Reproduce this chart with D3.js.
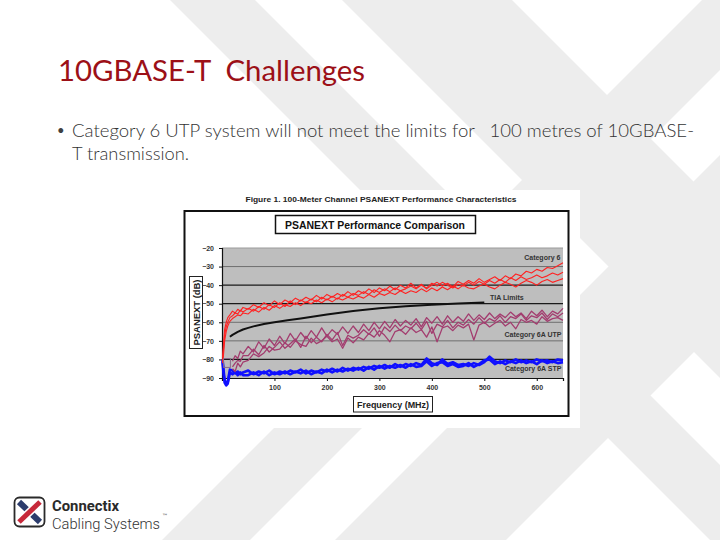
<!DOCTYPE html>
<html>
<head>
<meta charset="utf-8">
<script src="https://cdn.jsdelivr.net/npm/d3@7"></script>
<style>
  html, body { margin: 0; padding: 0; background: #fff; }
  svg { display: block; }
  text { white-space: pre; }
</style>
</head>
<body>
<svg id="slide" width="720" height="540"></svg>
<script>
// ---------------- DATA ----------------
const slideTitle = "10GBASE-T  Challenges";
const bulletLine1 = "Category 6 UTP system will not meet the limits for   100 metres of 10GBASE-";
const bulletLine2 = "T transmission.";
const figureTitle = "Figure 1. 100-Meter Channel PSANEXT Performance Characteristics";
const chartTitle = "PSANEXT Performance Comparison";
const xAxisTitle = "Frequency (MHz)";
const yAxisTitle = "PSANEXT (dB)";

const yTicks = [-20, -30, -40, -50, -60, -70, -80, -90];
const xTicks = [100, 200, 300, 400, 500, 600];
const darkGridLines = [-40, -50, -80];

const freqFull = [1,3,5,8,11,15,20,25,30,35,40,
  50,60,70,80,90,100,110,120,130,140,150,160,170,180,190,200,210,220,230,240,250,
  260,270,280,290,300,310,320,330,340,350,360,370,380,390,400,410,420,430,440,450,
  460,470,480,490,500,510,520,530,540,550,560,570,580,590,600,610,620,630,640,650];
const freqUTP = [20,25,30,35,40,
  50,60,70,80,90,100,110,120,130,140,150,160,170,180,190,200,210,220,230,240,250,
  260,270,280,290,300,310,320,330,340,350,360,370,380,390,400,410,420,430,440,450,
  460,470,480,490,500,510,520,530,540,550,560,570,580,590,600,610,620,630,640,650];

const cat6A = [-79,-71,-64,-60,-57.5,-56,-54,-55,-53,-54,-52,
  -53,-50.5,-52,-49.5,-51,-48.5,-50.5,-48,-49.5,-47,-48.5,-46.5,-48,-45.5,-47.5,-45,-46.5,-44.5,-46,-43.5,-45.5,
  -43,-44.5,-42,-44,-41.5,-43,-40.5,-42.5,-40,-41.5,-39,-41.5,-39.5,-42,-40,-38.5,-40.5,-39,-41,-38,
  -39.5,-37.5,-39,-36.5,-38.5,-37,-35.5,-37.5,-35,-36.5,-34,-35,-32.5,-33.5,-31.5,-32.5,-30.5,-31,-29.5,-28];
const cat6B = [-81,-74,-67,-62.5,-60,-57.5,-56.5,-55,-55.5,-53.5,-54.5,
  -52.5,-54,-51.5,-53,-50.5,-52,-49.5,-51.5,-48.5,-50.5,-48,-49.5,-47.5,-49,-46.5,-48,-46,-47.5,-45,-46.5,-44.5,
  -45.5,-43.5,-45,-42.5,-44,-42,-43.5,-41.5,-43,-42,-40.5,-42,-40,-41.5,-39,-40.5,-38.5,-40,-41.5,-39.5,
  -40.5,-38.5,-40,-38,-39.5,-37.5,-39,-37,-38.5,-36,-37.5,-35.5,-37,-36,-34.5,-36,-35,-33.5,-34.5,-33];
const cat6C = [-82,-77,-70,-65,-62,-59.5,-58,-57,-56,-56.5,-55,
  -55.5,-53,-54.5,-52,-53.5,-51,-52.5,-50.5,-51.5,-49.5,-51,-49,-50,-48,-49.5,-47.5,-49,-47,-48,-46.5,-47.5,
  -46,-47,-45,-46.5,-44.5,-45.5,-44,-45,-43,-44.5,-43,-44,-42,-43.5,-41.5,-43,-41,-42.5,-40.5,-42,
  -40,-41.5,-42,-40.5,-39.5,-41,-42,-40,-38.5,-39.5,-41,-39,-37.5,-38.5,-40,-38,-37,-38.5,-37.5,-36.5];

const tiaFreq = [15,20,30,40,50,60,80,100,125,150,200,250,300,350,400,450,500];
const tiaLimit = [-67.8,-66.8,-65.2,-63.9,-63,-62.2,-60.9,-60,-58.9,-57.9,-55.8,-53.9,-52.4,-51.3,-50.5,-49.9,-49.4];

const utpA = [-81,-78,-79.5,-75.5,-77,
  -73,-76,-70.5,-74,-69,-72.5,-67.5,-71.5,-66,-70,-65.5,-69,-64.5,-68,-63,-67.5,-64,-66.5,-62.5,-66,-62,
  -65.5,-61,-64.5,-60,-63.5,-59.5,-63,-58.5,-62,-59,-61.5,-58,-62.5,-57.5,-60.5,-57,-61,-56.5,-60,-57,
  -59.5,-55.5,-59,-56,-58.5,-55,-58,-55.5,-57.5,-54.5,-57,-55,-58,-54,-56.5,-53.5,-57,-54,-55.5,-52.5];
const utpB = [-84,-82,-80.5,-81,-78,
  -78,-74.5,-77.5,-72.5,-76,-73.5,-70.5,-74,-71.5,-69,-73.5,-67.5,-71,-68,-70.5,-66.5,-69.5,-65.5,-72.5,-67,-68.5,
  -67,-64,-66.5,-63,-67.5,-62.5,-65,-61.5,-64.5,-62,-63.5,-60.5,-64,-59.5,-66,-61,-62.5,-59,-63,-60,
  -61.5,-58.5,-61,-57.5,-60.5,-58,-59.5,-56.5,-60,-57,-58,-55.5,-59,-56.5,-57.5,-55,-58.5,-55.5,-57,-55];
const utpC = [-85,-86.5,-82,-84,-81.5,
  -80.5,-77,-78.5,-76.5,-73,-75,-74.5,-71,-73.5,-70,-72,-73,-68.5,-71.5,-70,-67.5,-70.5,-69,-74,-68.5,-71,
  -68,-69.5,-66,-68,-64.5,-67,-70.5,-65,-64,-66.5,-63,-65.5,-64,-68,-62.5,-70.5,-63,-62,-64.5,-61.5,
  -63,-61,-69.5,-61.5,-60,-62.5,-60.5,-59,-62,-60,-63.5,-58.5,-60,-59,-61,-57,-59.5,-58,-57.5,-59];

const stpA = [-80,-86,-91,-93,-92,-85.5,-86,-87.5,-86.5,-88,-87,
  -86,-88,-86.5,-87.5,-86,-88,-86.5,-87.5,-86,-87,-85.5,-87.5,-86,-87,-85.5,-86.5,-85,-86.5,-84.5,-86,-84.5,
  -85.5,-84,-85,-83.5,-84.5,-83,-84.5,-82.5,-84,-82.5,-83.5,-82,-83,-79.5,-82,-83,-80,-82.5,-81.5,-83,
  -82.5,-83.5,-82,-83,-81.5,-78.5,-81,-82,-80.5,-81.5,-80,-81.5,-80.5,-81.5,-80,-81,-80.5,-81.5,-80,-80.5];
const stpB = [-81,-88,-92.5,-94,-93,-87,-88,-86.5,-88.5,-87,-88.5,
  -88.5,-87,-88.5,-86.5,-88.5,-87,-88,-86.5,-88,-86.5,-87.5,-86,-88,-86.5,-87.5,-85.5,-87,-85.5,-86.5,-85,-86,
  -84.5,-86,-84,-85.5,-83.5,-85,-83.5,-84.5,-83,-84.5,-82.5,-84,-83.5,-81,-83.5,-82,-81.5,-83.5,-82.5,-84,
  -83.5,-82,-84,-82.5,-80.5,-80,-82.5,-81,-82.5,-81,-82,-80.5,-82,-81,-82.5,-80.5,-82,-81,-82,-81.5];

const seriesLabels = [
  {text: "Category 6", f: 645, db: -26.5},
  {text: "TIA Limits", f: 575, db: -47.9},
  {text: "Category 6A UTP", f: 647, db: -67.8},
  {text: "Category 6A STP", f: 647, db: -86.3}
];
const insetBox = {f0: 3, f1: 16, db0: -79.5, db1: -84.3};

// background watermark bands: "\" bands x-y in [a,b], "/" bands x+y in [a,b]
const bandsBack = [[170,255],[342,512]];
const bandsFwd = [[702,790],[875,1046]];

// ---------------- DRAW ----------------
const svg = d3.select("#slide");
const W = 720, H = 540;

svg.append("rect").attr("width", W).attr("height", H).attr("fill", "#ffffff");
const bg = svg.append("g").attr("fill", "#ededed");
bandsBack.forEach(([a,b]) => {
  bg.append("polygon").attr("points", [[a,0],[b,0],[b+H,H],[a+H,H]].map(p=>p.join(",")).join(" "));
});
bandsFwd.forEach(([a,b]) => {
  bg.append("polygon").attr("points", [[a,0],[b,0],[b-H,H],[a-H,H]].map(p=>p.join(",")).join(" "));
});

// Slide title
svg.append("text").attr("x", 58).attr("y", 81)
  .attr("font-family", "Lato, 'Open Sans', sans-serif").attr("font-weight", 400)
  .attr("font-size", 28).attr("fill", "#9c1017")
  .attr("textLength", 307).attr("lengthAdjust", "spacingAndGlyphs")
  .text(slideTitle);

// Bullet
svg.append("text").attr("x", 57).attr("y", 135)
  .attr("font-family", "Lato, sans-serif").attr("font-size", 13).attr("fill", "#404040").text("•");
svg.append("text").attr("x", 72).attr("y", 137)
  .attr("font-family", "Lato, 'Open Sans', sans-serif").attr("font-weight", 300)
  .attr("font-size", 17.5).attr("fill", "#333")
  .attr("textLength", 622).attr("lengthAdjust", "spacingAndGlyphs")
  .text(bulletLine1);
svg.append("text").attr("x", 72).attr("y", 160)
  .attr("font-family", "Lato, 'Open Sans', sans-serif").attr("font-weight", 300)
  .attr("font-size", 17.5).attr("fill", "#333")
  .attr("textLength", 117).attr("lengthAdjust", "spacingAndGlyphs")
  .text(bulletLine2);

// Chart image
const chart = svg.append("g");
chart.append("rect").attr("x", 181).attr("y", 190).attr("width", 399).attr("height", 238).attr("fill", "#fff");
const AF = "'Liberation Sans', Arial, sans-serif";
chart.append("text").attr("x", 381).attr("y", 202).attr("text-anchor", "middle")
  .attr("font-family", AF).attr("font-weight", "bold").attr("font-size", 8).attr("fill", "#222")
  .attr("textLength", 271).attr("lengthAdjust", "spacingAndGlyphs").text(figureTitle);

chart.append("rect").attr("x", 184.5).attr("y", 211).attr("width", 384).attr("height", 205)
  .attr("fill", "#fff").attr("stroke", "#111").attr("stroke-width", 2);

chart.append("rect").attr("x", 275.5).attr("y", 215.5).attr("width", 200).attr("height", 18)
  .attr("fill", "#fff").attr("stroke", "#111").attr("stroke-width", 1.5);
chart.append("text").attr("x", 375).attr("y", 228.5).attr("text-anchor", "middle")
  .attr("font-family", AF).attr("font-weight", "bold").attr("font-size", 11).attr("fill", "#111")
  .attr("textLength", 180).attr("lengthAdjust", "spacingAndGlyphs").text(chartTitle);

const x = d3.scaleLinear().domain([0, 650]).range([222, 563]);
const y = d3.scaleLinear().domain([-90, -20]).range([378, 248]);

chart.append("rect").attr("x", x(0)).attr("y", y(-20)).attr("width", x(650) - x(0)).attr("height", y(-90) - y(-20))
  .attr("fill", "#bebebe");

// gridlines
chart.append("g").selectAll("line").data(yTicks.filter(t => t !== -90)).join("line")
  .attr("x1", x(0)).attr("x2", x(650)).attr("y1", d => y(d)).attr("y2", d => y(d))
  .attr("stroke", d => darkGridLines.includes(d) ? "#1a1a1a" : (d === -20 ? "#9a9a9a" : "#6e6e6e"))
  .attr("stroke-width", d => darkGridLines.includes(d) ? 1.3 : 1);

// axes
const yAxis = d3.axisLeft(y).tickValues(yTicks).tickSize(3).tickFormat(d3.format("d"));
const gy = chart.append("g").attr("transform", `translate(${x(0)},0)`).call(yAxis);
gy.select(".domain").attr("stroke", "#111").attr("stroke-width", 1.2);
gy.selectAll(".tick line").attr("stroke", "#111");
gy.selectAll(".tick text").attr("font-family", AF).attr("font-weight", "bold").attr("font-size", 7).attr("fill", "#333").attr("dx", "-2");

const xAxis = d3.axisBottom(x).tickValues(xTicks).tickSize(3).tickFormat(d3.format("d"));
const gx = chart.append("g").attr("transform", `translate(0,${y(-90)})`).call(xAxis);
gx.select(".domain").attr("stroke", "#111").attr("stroke-width", 1.2);
gx.selectAll(".tick line").attr("stroke", "#111");
gx.selectAll(".tick text").attr("font-family", AF).attr("font-weight", "bold").attr("font-size", 7).attr("fill", "#333").attr("dy", "0.9em");

// axis titles
chart.append("rect").attr("x", 353.5).attr("y", 396.5).attr("width", 79).attr("height", 15.5)
  .attr("fill", "#fff").attr("stroke", "#222").attr("stroke-width", 1);
chart.append("text").attr("x", 393).attr("y", 408).attr("text-anchor", "middle")
  .attr("font-family", AF).attr("font-weight", "bold").attr("font-size", 9).attr("fill", "#222")
  .attr("textLength", 72).attr("lengthAdjust", "spacingAndGlyphs").text(xAxisTitle);
chart.append("rect").attr("x", 189.5).attr("y", 276.5).attr("width", 13).attr("height", 72)
  .attr("fill", "#fff").attr("stroke", "#222").attr("stroke-width", 1);
chart.append("text").attr("transform", "translate(199.5,312.5) rotate(-90)").attr("text-anchor", "middle")
  .attr("font-family", AF).attr("font-weight", "bold").attr("font-size", 9).attr("fill", "#222")
  .attr("textLength", 66).attr("lengthAdjust", "spacingAndGlyphs").text(yAxisTitle);

// series
const line = (fs) => d3.line().x((d, i) => x(fs[i])).y(d => y(d));
const series = chart.append("g").attr("fill", "none").attr("stroke-linejoin", "round");

[stpA, stpB].forEach(v => series.append("path").attr("d", line(freqFull)(v))
  .attr("stroke", "#1010ff").attr("stroke-width", 2.6));
[utpA, utpB, utpC].forEach(v => series.append("path").attr("d", line(freqUTP)(v))
  .attr("stroke", "#a33d6f").attr("stroke-width", 1.3));
series.append("path").attr("d", line(tiaFreq)(tiaLimit)).attr("stroke", "#111").attr("stroke-width", 2);
[cat6A, cat6B, cat6C].forEach(v => series.append("path").attr("d", line(freqFull)(v))
  .attr("stroke", "#ff2222").attr("stroke-width", 1.1));

chart.append("rect").attr("x", x(insetBox.f0)).attr("y", y(insetBox.db0))
  .attr("width", x(insetBox.f1) - x(insetBox.f0)).attr("height", y(insetBox.db1) - y(insetBox.db0))
  .attr("fill", "none").attr("stroke", "#8a6a8a").attr("stroke-width", 1);

chart.append("g").selectAll("text").data(seriesLabels).join("text")
  .attr("x", d => x(d.f)).attr("y", d => y(d.db)).attr("text-anchor", "end")
  .attr("font-family", AF).attr("font-weight", "bold").attr("font-size", 7).attr("fill", "#333")
  .text(d => d.text);

// Logo
const logo = svg.append("g");
logo.append("rect").attr("x", 14.5).attr("y", 497.5).attr("width", 30).attr("height", 29).attr("rx", 5)
  .attr("fill", "#fff").attr("stroke", "#2a2a2a").attr("stroke-width", 1.8);
logo.append("line").attr("x1", 19).attr("y1", 502).attr("x2", 40).attr("y2", 522)
  .attr("stroke", "#2c3c6c").attr("stroke-width", 6);
logo.append("line").attr("x1", 40).attr("y1", 502).attr("x2", 19).attr("y2", 522)
  .attr("stroke", "#fff").attr("stroke-width", 8);
logo.append("line").attr("x1", 40).attr("y1", 502).attr("x2", 19).attr("y2", 522)
  .attr("stroke", "#c7283a").attr("stroke-width", 5);
logo.append("text").attr("x", 52).attr("y", 511)
  .attr("font-family", "Roboto, 'DejaVu Sans Condensed', sans-serif").attr("font-weight", "bold")
  .attr("font-size", 14.5).attr("fill", "#2a2a2a")
  .attr("textLength", 67).attr("lengthAdjust", "spacingAndGlyphs").text("Connectix");
logo.append("text").attr("x", 52).attr("y", 529)
  .attr("font-family", "Roboto, sans-serif").attr("font-weight", 300)
  .attr("font-size", 14.5).attr("fill", "#333")
  .attr("textLength", 108).attr("lengthAdjust", "spacingAndGlyphs").text("Cabling Systems");
logo.append("text").attr("x", 162).attr("y", 518)
  .attr("font-family", "'DejaVu Sans', sans-serif").attr("font-size", 6).attr("fill", "#333").text("™");
</script>
</body>
</html>
